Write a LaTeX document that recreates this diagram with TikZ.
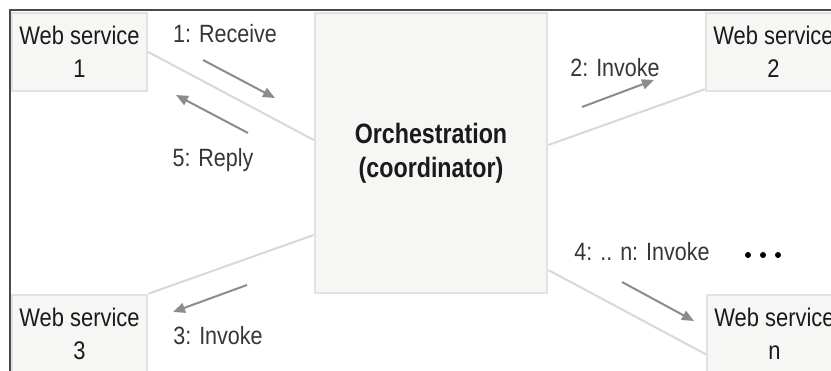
\documentclass[tikz,border=0pt]{standalone}
\usepackage{fontspec}
\setmainfont[FakeStretch=0.86]{Liberation Sans}
\newfontfamily\orchfont[FakeStretch=0.83]{Liberation Sans}
\usetikzlibrary{arrows.meta,calc}

\definecolor{boxfill}{HTML}{F6F7F4}
\definecolor{boxline}{HTML}{E2E3E0}
\definecolor{linkgray}{HTML}{D8D8D8}
\definecolor{flowgray}{HTML}{8C8C8C}
\definecolor{framegray}{HTML}{4A4A4A}
\definecolor{boxtext}{HTML}{1A1A1A}
\definecolor{lbltext}{HTML}{363636}

\begin{document}
\begin{tikzpicture}[x=1pt,y=-1pt,
  wsbox/.style={draw=boxline, fill=boxfill, line width=2.5pt,
    minimum width=135pt, minimum height=78pt, inner sep=0pt,
    align=center, text=boxtext, font=\fontsize{25.5}{33}\selectfont},
  orchbox/.style={draw=boxline, fill=boxfill, line width=2.5pt,
    minimum width=232pt, minimum height=280pt, inner sep=0pt,
    align=center, text=boxtext, font=\orchfont\fontsize{28}{34}\selectfont\bfseries},
  link/.style={draw=linkgray, line width=2pt},
  flow/.style={draw=flowgray, line width=2pt, -{Triangle[length=12pt,width=10pt]}},
  lbl/.style={anchor=base, inner sep=0pt, text=lbltext, font=\fontsize{25}{28}\selectfont},
  dot/.style={circle, fill=black, inner sep=0pt, minimum size=6pt}
]
\useasboundingbox (0,0) rectangle (831,371);
\clip (0,0) rectangle (831,371);

% outer frame (top and left edges)
\draw[framegray, line width=2pt] (10,371) -- (10,10) -- (831,10);

% participants
\node[orchbox] (orch) at (431,153) {Orchestration\\(coordinator)};
\node[wsbox] (ws1) at (79.5,52)  {Web service\\1};
\node[wsbox] (ws2) at (773.5,52) {Web service\\2};
\node[wsbox] (ws3) at (79.5,334) {Web service\\3};
\node[wsbox] (wsn) at (774.5,334) {Web service\\n};

% links between the coordinator and the services
\draw[link] (ws1.east) -- ([yshift=13pt]orch.west);
\draw[link] ([yshift=8pt]orch.east) -- ([yshift=3pt]ws2.south west);
\draw[link] (ws3.north east) -- ([yshift=-82pt]orch.west);
\draw[link] ([yshift=-117pt]orch.east) -- ([yshift=20pt]wsn.south west);

% message flow arrows
\coordinate (rcvA) at (203,60);  \coordinate (rcvB) at (275,98);
\coordinate (repA) at (248,133); \coordinate (repB) at (176,95);
\coordinate (inv2A) at (582,107); \coordinate (inv2B) at (654,80);
\coordinate (inv3A) at (247,285); \coordinate (inv3B) at (173,312);
\coordinate (invnA) at (622,282); \coordinate (invnB) at (694,321);
\draw[flow] (rcvA) -- (rcvB);
\draw[flow] (repA) -- (repB);
\draw[flow] (inv2A) -- (inv2B);
\draw[flow] (inv3A) -- (inv3B);
\draw[flow] (invnA) -- (invnB);

% message labels
\node[lbl] (l1) at (225,43)  {1: Receive};
\node[lbl] (l5) at (213,167) {5: Reply};
\node[lbl] (l2) at (615,77)  {2: Invoke};
\node[lbl] (l3) at (218,345) {3: Invoke};
\node[lbl] (l4) at (642,261) {4: .. n: Invoke};

% ellipsis for further services
\node[dot] (d1) at (748,255) {};
\node[dot] (d2) at (763,255) {};
\node[dot] (d3) at (778,255) {};
\end{tikzpicture}
\end{document}
